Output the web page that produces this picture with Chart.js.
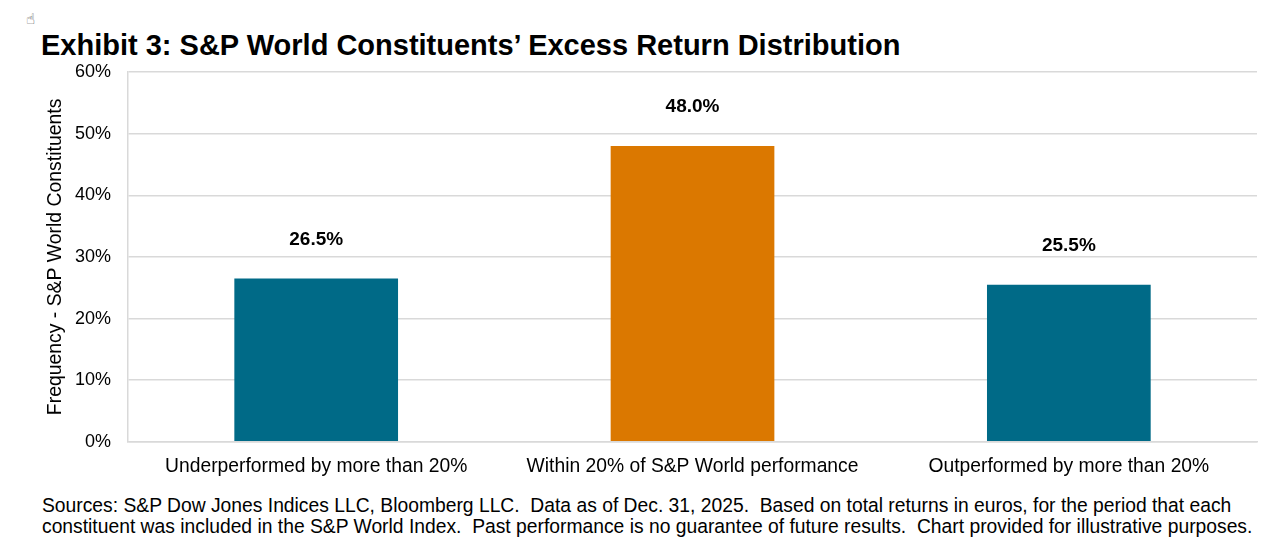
<!DOCTYPE html>
<html><head><meta charset="utf-8">
<script src="https://cdn.jsdelivr.net/npm/chart.js@4.4.1/dist/chart.umd.min.js"></script>
<style>
html,body{margin:0;padding:0;background:#fff;width:1279px;height:547px;overflow:hidden;font-family:Arial,"Liberation Sans",sans-serif;}
#title{position:absolute;left:41px;top:29px;font-size:29px;font-weight:bold;color:#000;white-space:nowrap;}
#icon{position:absolute;left:26px;top:12px;font-size:15px;line-height:15px;color:#444;font-family:"DejaVu Sans";}
#note{position:absolute;left:42px;top:495px;font-size:19.3px;line-height:21px;color:#000;white-space:nowrap;}
#wrap{position:absolute;left:0;top:0;width:1279px;height:483px;}
</style></head><body>
<div id="icon">☝</div>
<div id="title">Exhibit 3: S&amp;P World Constituents’ Excess Return Distribution</div>
<div id="wrap"><canvas id="c"></canvas></div>
<div id="note">Sources: S&amp;P Dow Jones Indices LLC, Bloomberg LLC.&nbsp; Data as of Dec. 31, 2025.&nbsp; Based on total returns in euros, for the period that each<br>constituent was included in the S&amp;P World Index.&nbsp; Past performance is no guarantee of future results.&nbsp; Chart provided for illustrative purposes.</div>
<script>
const categories = ["Underperformed by more than 20%", "Within 20% of S&P World performance", "Outperformed by more than 20%"];
const frequency = [26.5, 48.0, 25.5];
const barColors = ["#006A87", "#DB7800", "#006A87"];
const yTicks = [0, 10, 20, 30, 40, 50, 60];
const yTitle = "Frequency - S&P World Constituents";
const FONT = 'Arial, "Liberation Sans", sans-serif';

const labelPlugin = {
  id: 'valLabels',
  afterDatasetsDraw(chart) {
    const ctx = chart.ctx;
    const meta = chart.getDatasetMeta(0);
    ctx.save();
    ctx.font = 'bold 19px ' + FONT;
    ctx.fillStyle = '#000';
    ctx.textAlign = 'center';
    ctx.textBaseline = 'middle';
    meta.data.forEach((bar, i) => {
      ctx.fillText(frequency[i].toFixed(1) + '%', bar.x, bar.y - 39);
    });
    const ca = chart.chartArea;
    ctx.font = '19.4px ' + FONT;
    ctx.translate(56, (ca.top + ca.bottom) / 2);
    ctx.rotate(-Math.PI / 2);
    ctx.fillText(yTitle, 0, 0);
    ctx.restore();
  }
};

new Chart(document.getElementById('c'), {
  type: 'bar',
  data: {
    labels: categories,
    datasets: [{
      data: frequency,
      backgroundColor: barColors,
      categoryPercentage: 1.0,
      barPercentage: 0.435
    }]
  },
  options: {
    responsive: true,
    maintainAspectRatio: false,
    animation: false,
    layout: { padding: { top: 72, right: 22, left: 58, bottom: 0 } },
    plugins: { legend: { display: false }, tooltip: { enabled: false }, title: { display: false } },
    scales: {
      x: {
        grid: { display: false },
        border: { color: '#d9d9d9', width: 1.5 },
        ticks: { color: '#000', font: { size: 19.3, family: FONT }, padding: 5, maxRotation: 0 }
      },
      y: {
        min: 0, max: 60,
        afterBuildTicks(axis) { axis.ticks = yTicks.map(v => ({ value: v })); },
        grid: { color: '#d9d9d9', lineWidth: 1.5, drawTicks: false },
        border: { color: '#d9d9d9', width: 1.5 },
        ticks: { color: '#000', font: { size: 18, family: FONT }, padding: 17, callback: v => v + '%' }
      }
    }
  },
  plugins: [labelPlugin]
});
</script>
</body></html>
